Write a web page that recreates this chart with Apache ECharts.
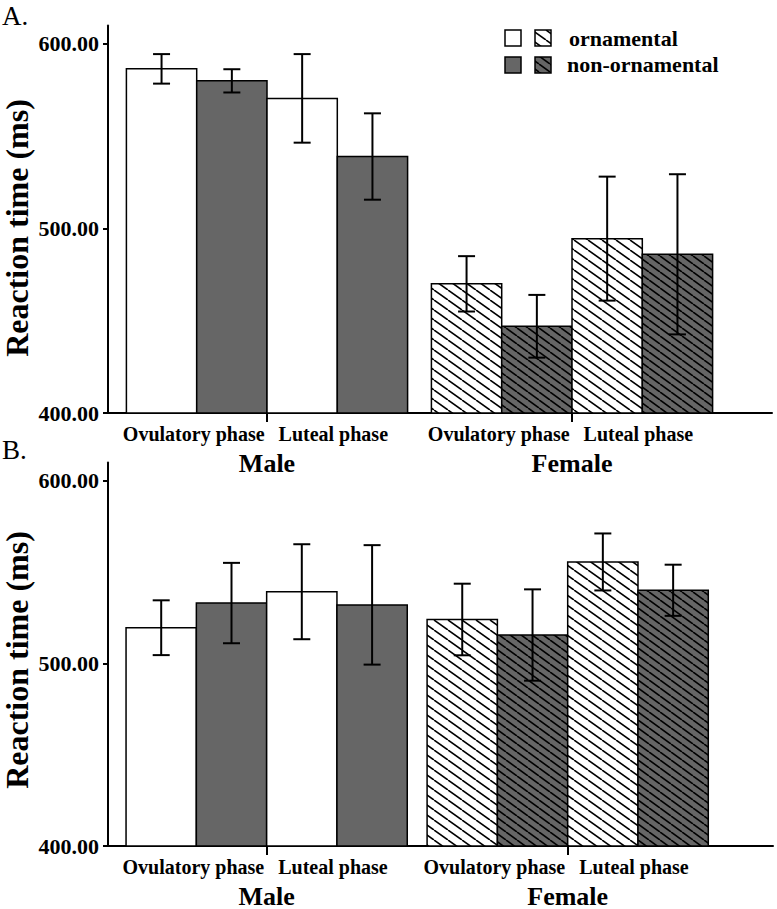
<!DOCTYPE html>
<html><head><meta charset="utf-8">
<script src="https://cdn.jsdelivr.net/npm/echarts@6/dist/echarts.min.js"></script>
<style>html,body{margin:0;padding:0;background:#fff}#c{width:777px;height:909px}</style>
</head><body><div id="c"></div>
<script>
// ---- data ----
const groups = ['Male', 'Female'];
const phases = ['Ovulatory phase', 'Luteal phase'];
const conditions = ['ornamental', 'non-ornamental'];
const yTicks = [400, 500, 600];
// values ordered: Male-Ovulatory, Male-Luteal, Female-Ovulatory, Female-Luteal
const A_ornamental = [586.5, 570.5, 470.0, 494.5];
const A_ornamental_err = [8.0, 24.0, 15.0, 33.6];
const A_nonornamental = [580.0, 539.0, 447.0, 486.0];
const A_nonornamental_err = [6.3, 23.4, 17.0, 43.4];
const B_ornamental = [519.5, 539.2, 524.0, 555.5];
const B_ornamental_err = [15.0, 26.0, 19.6, 15.6];
const B_nonornamental = [533.0, 532.0, 515.5, 540.0];
const B_nonornamental_err = [22.0, 32.7, 25.0, 14.0];

// ---- styling helpers ----
const SERIF = '"Liberation Serif", "Times New Roman", serif';
const GRAY = '#666666';
const BW = 70.3; // bar width px
function hatch(bg, w, h) {
  const c = document.createElement('canvas');
  c.width = w; c.height = h;
  const ctx = c.getContext('2d');
  ctx.fillStyle = bg; ctx.fillRect(0, 0, w, h);
  ctx.strokeStyle = '#000'; ctx.lineWidth = 1.6;
  for (const k of [-w, 0, w]) {
    ctx.beginPath(); ctx.moveTo(k, 0); ctx.lineTo(k + w, h); ctx.stroke();
  }
  return { image: c, repeat: 'repeat', imageWidth: w, imageHeight: h };
}
const hatchWhite = hatch('#ffffff', 14, 10);
const hatchGray = hatch(GRAY, 11, 8);

function buildRows(orn, ornErr, non, nonErr) {
  const rows = [];
  for (let i = 0; i < 4; i++) {
    const g = Math.floor(i / 2), p = i % 2;
    rows.push([g, p, 0, orn[i], ornErr[i]]);
    rows.push([g, p, 1, non[i], nonErr[i]]);
  }
  return rows;
}
const rowsA = buildRows(A_ornamental, A_ornamental_err, A_nonornamental, A_nonornamental_err);
const rowsB = buildRows(B_ornamental, B_ornamental_err, B_nonornamental, B_nonornamental_err);

function renderBar(params, api) {
  const g = api.value(0), p = api.value(1), c = api.value(2), m = api.value(3), e = api.value(4);
  const base = api.coord([g, 400]);
  const top = api.coord([g, m]);
  const k = p * 2 + c;
  const x0 = base[0] + (k - 2) * BW;
  const fill = c === 0 ? (g === 1 ? hatchWhite : '#ffffff') : (g === 1 ? hatchGray : GRAY);
  const hi = api.coord([g, m + e])[1], lo = api.coord([g, m - e])[1];
  const cx = x0 + BW / 2;
  const ls = { stroke: '#000', lineWidth: 2 };
  return { type: 'group', children: [
    { type: 'rect', shape: { x: x0, y: top[1], width: BW, height: base[1] - top[1] }, style: { fill: fill, stroke: '#000', lineWidth: 1.5 } },
    { type: 'line', shape: { x1: cx, y1: hi, x2: cx, y2: lo }, style: ls },
    { type: 'line', shape: { x1: cx - 8.5, y1: hi, x2: cx + 8.5, y2: hi }, style: ls },
    { type: 'line', shape: { x1: cx - 8.5, y1: lo, x2: cx + 8.5, y2: lo }, style: ls }
  ]};
}
const phaseRows = [[0, 0], [0, 1], [1, 0], [1, 1]];
function renderPhase(params, api) {
  const g = api.value(0), p = api.value(1);
  const base = api.coord([g, 400]);
  return { type: 'text', x: base[0] + (p === 0 ? -BW - 3 : BW - 4), y: base[1] + 21,
    style: { text: phases[p], font: 'bold 20px ' + SERIF, fill: '#000', align: 'center', verticalAlign: 'middle' } };
}

function xAx(idx, min, max) {
  return { type: 'value', gridIndex: idx, min: min, max: max,
    axisLine: { show: true, onZero: false, lineStyle: { color: '#000', width: 2 } },
    axisTick: { show: true, customValues: [0, 1], length: 9, lineStyle: { color: '#000', width: 2 } },
    axisLabel: { customValues: [0, 1], formatter: v => groups[Math.round(v)], margin: 50,
      verticalAlign: 'middle', fontFamily: SERIF, fontWeight: 'bold', fontSize: 26, color: '#000' },
    splitLine: { show: false } };
}
function yAx(idx) {
  return { type: 'value', gridIndex: idx, min: 400, max: 610,
    axisLine: { show: true, onZero: false, lineStyle: { color: '#000', width: 2 } },
    axisTick: { show: true, customValues: yTicks, length: 5, lineStyle: { color: '#000', width: 2 } },
    axisLabel: { customValues: yTicks, formatter: v => v.toFixed(2), margin: 9,
      fontFamily: SERIF, fontWeight: 'bold', fontSize: 22, color: '#000' },
    splitLine: { show: false } };
}

const chart = echarts.init(document.getElementById('c'), null, { renderer: 'svg' });
const legendTxt = { font: 'bold 22px ' + SERIF, fill: '#000', verticalAlign: 'middle' };
chart.setOption({
  animation: false,
  backgroundColor: '#fff',
  grid: [
    { left: 108, top: 25.5, width: 664, height: 387.5 },
    { left: 108, top: 462.4, width: 665, height: 383.6 }
  ],
  xAxis: [xAx(0, -0.5213, 1.6557), xAx(1, -0.527, 1.682)],
  yAxis: [yAx(0), yAx(1)],
  series: [
    { type: 'custom', xAxisIndex: 0, yAxisIndex: 0, data: rowsA, renderItem: renderBar, encode: { x: 0, y: 3 }, clip: false },
    { type: 'custom', xAxisIndex: 1, yAxisIndex: 1, data: rowsB, renderItem: renderBar, encode: { x: 0, y: 3 }, clip: false },
    { type: 'custom', xAxisIndex: 0, yAxisIndex: 0, data: phaseRows, renderItem: renderPhase, encode: { x: 0 }, clip: false, silent: true },
    { type: 'custom', xAxisIndex: 1, yAxisIndex: 1, data: phaseRows, renderItem: renderPhase, encode: { x: 0 }, clip: false, silent: true }
  ],
  graphic: [
    { type: 'text', x: 2, y: 16, style: { text: 'A.', font: '27px ' + SERIF, fill: '#000', verticalAlign: 'middle' } },
    { type: 'text', x: 2, y: 450, style: { text: 'B.', font: '27px ' + SERIF, fill: '#000', verticalAlign: 'middle' } },
    { type: 'text', x: 17, y: 228, rotation: Math.PI / 2, style: { text: 'Reaction time (ms)', font: 'bold 32px ' + SERIF, fill: '#000', align: 'center', verticalAlign: 'middle' } },
    { type: 'text', x: 17, y: 660, rotation: Math.PI / 2, style: { text: 'Reaction time (ms)', font: 'bold 32px ' + SERIF, fill: '#000', align: 'center', verticalAlign: 'middle' } },
    { type: 'rect', shape: { x: 505, y: 30, width: 16, height: 16 }, style: { fill: '#fff', stroke: '#000', lineWidth: 1.5 } },
    { type: 'rect', shape: { x: 535, y: 30, width: 16, height: 16 }, style: { fill: hatchWhite, stroke: '#000', lineWidth: 1.5 } },
    { type: 'rect', shape: { x: 505, y: 57, width: 16, height: 16 }, style: { fill: GRAY, stroke: '#000', lineWidth: 1.5 } },
    { type: 'rect', shape: { x: 535, y: 57, width: 16, height: 16 }, style: { fill: hatchGray, stroke: '#000', lineWidth: 1.5 } },
    { type: 'text', x: 569, y: 38, style: Object.assign({ text: conditions[0] }, legendTxt) },
    { type: 'text', x: 567, y: 64, style: Object.assign({ text: conditions[1] }, legendTxt) }
  ]
});
</script></body></html>
